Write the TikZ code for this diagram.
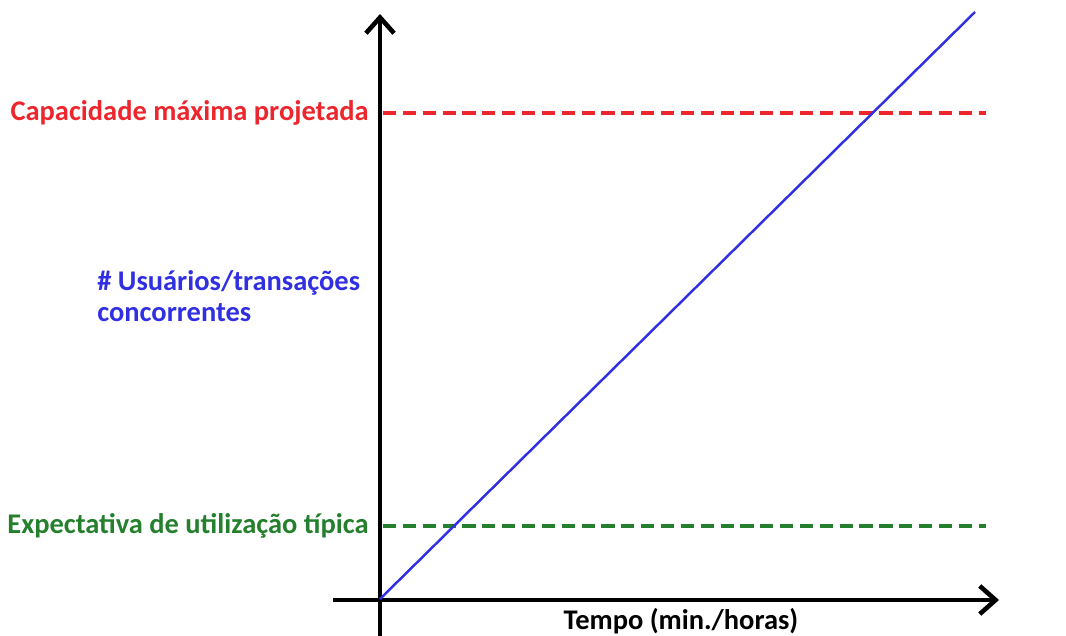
\documentclass[tikz,border=0pt]{standalone}
\usepackage{fontspec}
\setmainfont{Carlito}
\usetikzlibrary{arrows.meta,positioning}
\definecolor{capred}{RGB}{236,38,44}
\definecolor{loadblue}{RGB}{48,48,226}
\definecolor{usegreen}{RGB}{36,128,44}

\begin{document}
\begin{tikzpicture}[x=0.02cm,y=-0.02cm,
    axis/.style={line width=2.6pt,-{Straight Barb[length=9pt,width=16pt,line width=2.6pt]}},
    limit/.style={line width=2.1pt,dash pattern=on 7.5pt off 3.8pt},
    lbl/.style={font=\bfseries\fontsize{16.2}{18}\selectfont,inner sep=0pt}]
      \useasboundingbox (0,0) rectangle (1066,636);
      % axes
      \coordinate (o) at (380,599);
      \coordinate (ybot) at (380,640);
      \coordinate (ytop) at (380,14);
      \coordinate (xleft) at (333,600);
      \coordinate (xright) at (999,600);
      \draw[axis] (ybot) -- (ytop);
      \draw[axis] (xleft) -- (xright);
      % limits
      \coordinate (capL) at (383,113);
      \coordinate (capR) at (986,113);
      \coordinate (useL) at (383,526);
      \coordinate (useR) at (986,526);
      \draw[limit,capred] (capL) -- (capR);
      \draw[limit,usegreen] (useL) -- (useR);
      % load
      \coordinate (loadend) at (975,12);
      \draw[loadblue,line width=1.4pt] (o) -- (loadend);
      % labels
      \node[lbl,capred,anchor=east] (cap) at (369,113) {Capacidade máxima projetada};
      \node[lbl,usegreen,anchor=east] (use) at (369,526) {Expectativa de utilização típica};
      \node[lbl,loadblue,anchor=north west,align=left] (users) at (97,270) {\# Usuários/transações\\concorrentes};
      \node[lbl,anchor=south] (time) at (681,634) {Tempo (min./horas)};
\end{tikzpicture}
\end{document}
